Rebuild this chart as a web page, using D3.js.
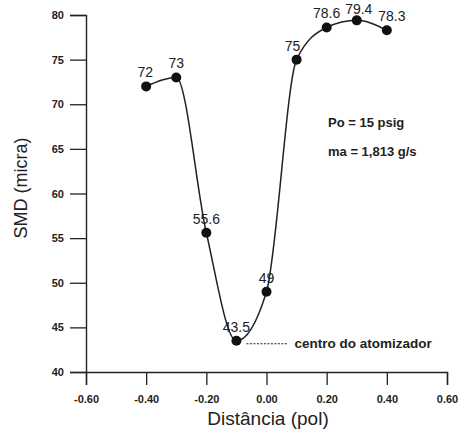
<!DOCTYPE html>
<html><head><meta charset="utf-8">
<script src="https://cdn.jsdelivr.net/npm/d3@7"></script>
<style>body{margin:0;background:#fff}svg{display:block}</style>
</head><body>
<svg id="c" width="465" height="431"></svg>
<script>
const xValues = [-0.4, -0.3, -0.2, -0.1, 0.0, 0.1, 0.2, 0.3, 0.4];
const smdValues = [72, 73, 55.6, 43.5, 49, 75, 78.6, 79.4, 78.3];
const pointLabels = ["72", "73", "55.6", "43.5", "49", "75", "78.6", "79.4", "78.3"];
const xTicks = [-0.6, -0.4, -0.2, 0, 0.2, 0.4, 0.6];
const xTickLabels = ["-0.60", "-0.40", "-0.20", "0.00", "0.20", "0.40", "0.60"];
const yTicks = [40, 45, 50, 55, 60, 65, 70, 75, 80];
const yTickLabels = ["40", "45", "50", "55", "60", "65", "70", "75", "80"];
const annotations = ["Po = 15 psig", "ma = 1,813 g/s"];
const centerNote = "centro do atomizador";

const svg = d3.select("#c");
const x = d3.scaleLinear().domain([-0.6, 0.6]).range([86, 447]);
const y = d3.scaleLinear().domain([40, 80]).range([372, 15]);
const ink = "#222";
const font = "Arial, 'Liberation Sans', sans-serif";

// axes
const xa = svg.append("g").attr("transform", "translate(0,372)")
  .call(d3.axisBottom(x).tickValues(xTicks).tickFormat((d,i)=>xTickLabels[i]).tickSize(13).tickPadding(10));
const ya = svg.append("g").attr("transform", "translate(86,0)")
  .call(d3.axisLeft(y).tickValues(yTicks).tickFormat((d,i)=>yTickLabels[i]).tickSize(16).tickPadding(6));
[xa, ya].forEach(g => {
  g.select(".domain").attr("stroke", ink).attr("stroke-width", 1.4);
  g.selectAll(".tick line").attr("stroke", ink).attr("stroke-width", 1.3);
  g.selectAll(".tick text").attr("fill", ink).attr("font-family", font)
    .attr("font-size", 11).attr("font-weight", "bold");
});

// axis titles
svg.append("text").attr("x", 268).attr("y", 425).attr("text-anchor", "middle")
  .attr("font-family", font).attr("font-size", 19).attr("fill", ink).text("Distância (pol)");
svg.append("text").attr("transform", "translate(27,188) rotate(-90)").attr("text-anchor", "middle")
  .attr("font-family", font).attr("font-size", 18).attr("fill", ink).text("SMD (micra)");

// curve
const data = xValues.map((v,i)=>({x:v, y:smdValues[i], l:pointLabels[i]}));
const line = d3.line().x(d=>x(d.x)).y(d=>y(d.y)).curve(d3.curveMonotoneX);
svg.append("path").datum(data).attr("d", line).attr("fill", "none")
  .attr("stroke", ink).attr("stroke-width", 1.5);

svg.selectAll("circle.p").data(data).join("circle").attr("class","p")
  .attr("cx", d=>x(d.x)).attr("cy", d=>y(d.y)).attr("r", 5).attr("fill", "#111");

const dx = [-1, 0, 0, 0, 0, -4, 0, 2, 5];
const dy = [-9, -9, -9, -9, -9, -9, -9, -6, -9];
svg.selectAll("text.pl").data(data).join("text").attr("class","pl")
  .attr("x", (d,i)=>x(d.x)+dx[i]).attr("y", (d,i)=>y(d.y)+dy[i]).attr("text-anchor","middle")
  .attr("font-family", font).attr("font-size", 14).attr("fill", ink).text(d=>d.l);

// annotations
svg.append("text").attr("x", 328).attr("y", 127).attr("font-family", font).attr("font-size", 13)
  .attr("font-weight","bold").attr("fill", ink).text(annotations[0]);
svg.append("text").attr("x", 328).attr("y", 156).attr("font-family", font).attr("font-size", 13)
  .attr("font-weight","bold").attr("fill", ink).text(annotations[1]);

const cx = x(-0.1), cy = y(43.5);
svg.append("line").attr("x1", cx+10).attr("x2", cx+52).attr("y1", cy+3).attr("y2", cy+3)
  .attr("stroke", ink).attr("stroke-width", 1.2).attr("stroke-dasharray", "2,1.5");
svg.append("text").attr("x", cx+58).attr("y", cy+7).attr("font-family", font).attr("font-size", 13.5)
  .attr("font-weight","bold").attr("fill", ink).text(centerNote);
</script>
</body></html>
